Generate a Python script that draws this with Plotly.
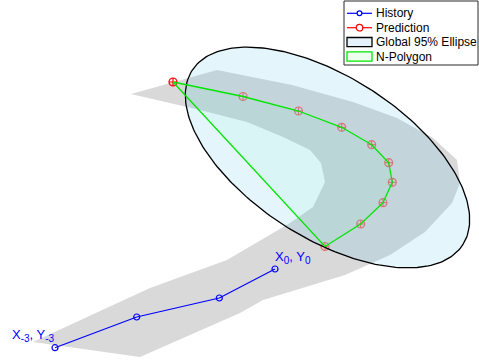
import numpy as np
import plotly.graph_objects as go

# Observed track: last four samples (metres, local frame)
hist_x = [5.5, 13.67, 21.93, 27.5]
hist_y = [1.23, 4.3, 6.2, 9.1]
SUB = '<sub><span style="font-size:10px">{}</span></sub>'
hist_labels = ["X" + SUB.format("-3") + ", Y" + SUB.format("-3"),
               "X" + SUB.format("0") + ", Y" + SUB.format("0")]

# Predicted positions over the horizon
pred_x = [17.3, 24.3, 29.85, 34.17, 37.17, 38.87, 39.23, 38.3, 36.07, 32.5]
pred_y = [27.8, 26.35, 24.9, 23.27, 21.53, 19.73, 17.77, 15.73, 13.6, 11.35]

# Drivable-area outline (curved lane)
road_x = [3.3, 15.0, 22.7, 29.0, 31.3, 32.5, 32.1, 31.0, 28.3, 24.7, 20.0, 13.1,
          21.7, 29.2, 35.3, 39.7, 43.3, 45.7, 46.0, 45.2, 42.5, 39.0, 34.5, 26.3,
          24.0, 14.0]
road_y = [1.8, 7.2, 10.0, 13.7, 15.3, 17.8, 19.7, 21.0, 22.3, 23.8, 25.0, 26.6,
          29.0, 27.5, 25.8, 24.2, 22.2, 20.0, 17.7, 15.7, 12.8, 10.5, 8.5, 6.0,
          4.7, 0.3]

# Global 95% confidence ellipse: centre, semi-axes, orientation
ell_center = [32.75, 20.25]
ell_axes = [16.1, 8.05]
ell_angle_deg = -32.8

legend_names = ["History", "Prediction", "Global 95% Ellipse", "N-Polygon"]

FONT = "Arial, Liberation Sans, Helvetica, sans-serif"
W, H = 479, 360
BLUE = "rgb(0,0,255)"
RED = "rgb(255,0,0)"
GREEN = "rgb(0,230,0)"
ELL_FILL = "rgba(77,190,237,0.15)"
POLY_FILL = "rgba(40,255,140,0.05)"

t = np.linspace(0, 2 * np.pi, 241)
phi = np.deg2rad(ell_angle_deg)
a, b = ell_axes
ell_x = ell_center[0] + a * np.cos(t) * np.cos(phi) - b * np.sin(t) * np.sin(phi)
ell_y = ell_center[1] + a * np.cos(t) * np.sin(phi) + b * np.sin(t) * np.cos(phi)

# predicted points covered by the translucent ellipse are seen through it
dx = np.array(pred_x) - ell_center[0]
dy = np.array(pred_y) - ell_center[1]
u = (dx * np.cos(phi) + dy * np.sin(phi)) / a
v = (-dx * np.sin(phi) + dy * np.cos(phi)) / b
pred_opacity = np.where(u ** 2 + v ** 2 < 1.0, 0.5, 1.0)

fig = go.Figure()

# lane area
fig.add_trace(go.Scatter(
    x=road_x + [road_x[0]], y=road_y + [road_y[0]],
    mode="lines", fill="toself", fillcolor="rgb(217,217,217)",
    line=dict(width=0), hoverinfo="skip", showlegend=False))

# history
fig.add_trace(go.Scatter(
    x=hist_x, y=hist_y, mode="lines+markers", name=legend_names[0],
    line=dict(color=BLUE, width=1.2), showlegend=False,
    marker=dict(symbol="circle-open", size=6, color=BLUE, line=dict(width=1.2))))

# prediction
fig.add_trace(go.Scatter(
    x=pred_x, y=pred_y, mode="markers", name=legend_names[1], showlegend=False,
    marker=dict(symbol="circle-cross-open", size=8, color=RED,
                opacity=pred_opacity, line=dict(width=1.2))))

# confidence ellipse
fig.add_trace(go.Scatter(
    x=ell_x, y=ell_y, mode="lines", fill="toself", name=legend_names[2],
    fillcolor=ELL_FILL, line=dict(color="black", width=1.3), showlegend=False))

# polygon hull of the predicted positions
fig.add_trace(go.Scatter(
    x=pred_x + [pred_x[0]], y=pred_y + [pred_y[0]], mode="lines", fill="toself",
    name=legend_names[3], fillcolor=POLY_FILL, showlegend=False,
    line=dict(color=GREEN, width=1.3)))

label_font = dict(family=FONT, size=13, color=BLUE)
fig.add_annotation(x=hist_x[0], y=hist_y[0], text=hist_labels[0], showarrow=False,
                   xanchor="right", yanchor="bottom", xshift=2, yshift=2,
                   font=label_font)
fig.add_annotation(x=hist_x[-1], y=hist_y[-1], text=hist_labels[1], showarrow=False,
                   xanchor="left", yanchor="bottom", xshift=-2, yshift=1,
                   font=label_font)

# ---- legend box (pixel layout converted to paper fractions) ----
def fx(p):
    return p / W


def fy(p):
    return 1 - p / H


LEG_L, LEG_T, LEG_R, LEG_B = 344, 1, 478, 65
ROW0, ROW_DY = 13.3, 14.4
G0, G1, TX = 347, 372, 374
GC = (G0 + G1) / 2

shapes = [dict(type="rect", xref="paper", yref="paper", layer="above",
               x0=fx(LEG_L), x1=fx(LEG_R), y0=fy(LEG_B), y1=fy(LEG_T),
               fillcolor="white", line=dict(color="rgb(40,40,40)", width=1))]

for i, name in enumerate(legend_names):
    r = ROW0 + i * ROW_DY
    if i < 2:
        col = BLUE if i == 0 else RED
        rad = 2.4 if i == 0 else 3.3
        shapes.append(dict(type="line", xref="paper", yref="paper", layer="above",
                           x0=fx(G0), x1=fx(G1), y0=fy(r), y1=fy(r),
                           line=dict(color=col, width=1.2)))
        shapes.append(dict(type="circle", xref="paper", yref="paper", layer="above",
                           x0=fx(GC - rad), x1=fx(GC + rad),
                           y0=fy(r + rad), y1=fy(r - rad),
                           fillcolor="white", line=dict(color=col, width=1.2)))
    else:
        fill = "rgb(228,243,252)" if i == 2 else "rgb(236,254,238)"
        edge = "black" if i == 2 else GREEN
        shapes.append(dict(type="rect", xref="paper", yref="paper", layer="above",
                           x0=fx(G0), x1=fx(G1), y0=fy(r + 4.6), y1=fy(r - 4.6),
                           fillcolor=fill, line=dict(color=edge, width=1.3)))
    fig.add_annotation(xref="paper", yref="paper", x=fx(TX), y=fy(r), text=name,
                       showarrow=False, xanchor="left", yanchor="middle",
                       font=dict(family=FONT, size=12, color="black"))

fig.update_layout(
    width=W, height=H,
    margin=dict(l=0, r=0, t=0, b=0),
    paper_bgcolor="white", plot_bgcolor="white",
    font=dict(family=FONT, size=12, color="black"),
    xaxis=dict(range=[0, 47.9], visible=False, fixedrange=True),
    yaxis=dict(range=[0, 36.0], visible=False, fixedrange=True),
    shapes=shapes,
    showlegend=False,
)

fig.write_html("out.html")
